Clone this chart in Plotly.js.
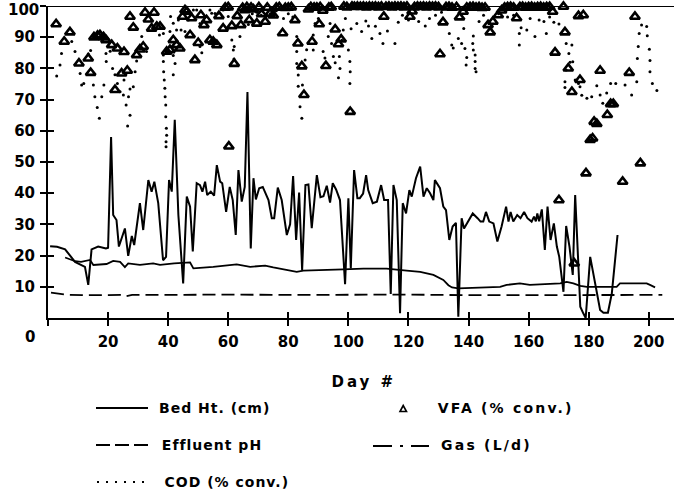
<!DOCTYPE html>
<html>
<head>
<meta charset="utf-8">
<script src="https://cdn.plot.ly/plotly-3.0.1.min.js"></script>
<style>
html,body{margin:0;padding:0;background:#fff;}
#chart{width:674px;height:497px;}
</style>
</head>
<body>
<div id="chart"></div>
<script>
// ---- Bed height (cm) ----
const bedDays = [0.7,3,5.7,7.6,9,12.3,13.4,14.5,16.7,19.3,20,21,21.7,22.8,23.6,25.6,26.7,27.9,28.7,30.6,31.7,33.4,34.5,35.4,36.7,38.3,39.3,40.3,41.2,42.2,43.4,45,46.2,47.3,48.2,49.5,50.6,51.4,52.3,53,54.2,55.3,56.2,57.3,58,59.3,60.5,61.5,62.5,63.4,64.5,65.5,66.4,67.5,68.4,69.2,70.3,71.5,72.3,73.4,74.5,75.3,76.5,77.8,79.5,80.6,81.6,82.6,83.6,84.6,85.7,86.7,87.8,89.5,90.7,91.7,92.8,93.9,94.8,95.9,97.2,98.9,100,100.8,101.9,103,103.8,104.9,105.9,106.6,108.1,109.5,110.9,111.9,113.2,114.1,115,116.1,117.2,118.1,119.2,120.3,121.1,122.5,123.9,125,126.1,127.2,128.3,128.8,130.5,131.6,132.5,133.6,134.7,135.8,136.6,137.7,138.5,139.9,141.4,143,144,144.9,145.8,146.9,148.3,149.6,151,152.5,153.3,154,154.9,156.2,157.3,158.5,159.6,161,161.8,162.4,162.9,163.5,164.4,165.4,166.3,167.3,168.4,169.4,170.2,171.6,172.5,173.6,174.7,175.5,176.4,177.2,178.2,179,180.5,181.6,182.7,183.8,184.9,186.4,187.7,189.6];
const bedVals = [23,22.8,22,19.6,18,16.4,10.6,22,22.9,22.3,22.5,58,33,31.4,22.9,28.7,19.9,26.3,23.4,36.8,28.2,44.2,40.5,43.7,36.8,18.5,19.6,44.2,40.5,63.5,33,11.1,38.9,35.7,21.3,43.2,42.6,40.5,43.7,39.4,40.5,39.2,49,43.7,43.2,34,42,37.8,26.6,47.4,37.3,42,72.4,22.3,44.8,38,41.6,42,40,37.8,32,32,41.8,37.8,26.6,30,45.5,25,40.2,15.4,42.6,42.8,28.8,45.8,38.7,39,42.4,37,43.2,41.2,37.8,10.8,38.4,15.9,47.4,38.4,38.4,39.9,45.8,41,36.8,37.3,42.6,37.8,37.8,7.7,42.6,37.8,1.5,36.8,33.5,41,38.9,44.8,48.5,38.9,41.6,40,37.8,44.2,41.6,35.7,34.6,25,29.3,30.5,0.4,32,28.7,30.9,33.5,32,30.9,30.9,34,30.9,30.3,24.5,29.3,35.7,30.9,34,30.9,33,32,34,32,30.9,32.5,31,33.5,31,34.8,21.8,35.7,25,30.3,22.9,19.6,8.4,29.5,22.9,13.8,39.4,21.8,3.6,1.5,0,19.6,14.3,7.9,2.6,1.7,1.7,7.9,26.6];

// ---- Gas (L/d) ----
const gasDays = [5.7,9,11,14,15.1,19.5,21.7,24,25.6,26.7,30.6,35,37.3,42,47.3,48.4,55,59.5,62.8,67.3,72.3,75,80,82.8,85,92.8,98.3,105,112.7,119.4,123.9,128.3,131.6,133.3,134.5,136.6,141.4,147.2,150.5,152.7,157.1,160.4,163.8,170.5,172.7,174.9,177.2,179.4,183.8,189.3,190.4,199.3,200.4,202.1];
const gasVals = [19.4,18.2,18,18.6,17,17.3,18.3,18,16.3,17.5,17,17.5,17,17.5,17.8,15.9,16.4,16.9,17.2,16.4,16.8,16.2,15.4,14.8,15.2,15.3,15.6,15.8,15.8,15.2,14.8,13.8,12.2,10.5,9.8,9.5,9.7,10,10,10.6,11.1,10.6,10.8,11.1,11.6,11.1,10.3,10,10,10,11.1,11.1,10.6,9.8];

// ---- Effluent pH ----
const phDays = [1,4,7,12,20,25,26,28,35,45,60,80,100,114,120,140,160,180,204.5];
const phVals = [8.1,7.8,7.4,7.3,7.3,7.4,7.0,7.4,7.4,7.5,7.5,7.4,7.5,7.5,7.5,7.3,7.4,7.4,7.4];

// ---- COD (% conv.) ----
const codDays = [2.9,4,4.5,7.9,9,10.7,11.2,11.9,13.4,14.2,15.1,15.6,16.4,17.1,17.9,18.6,19.3,19.4,20.1,20.7,21.5,22.3,23.1,24,25.1,25.3,26,26.5,26.8,27.3,27.3,28.4,29,29.5,31.2,32.8,34.5,36.2,37.1,38.4,38.4,38.4,38.5,38.7,38.9,39,39.2,39.2,39.4,39.5,39.3,39.3,40.6,40.8,41.7,41.7,41.7,42.3,42.8,43.4,44.3,45.6,46.7,48.4,49.5,50.6,50.6,51.2,53.9,54.5,55.6,56.7,58.3,60,61.2,61.7,62,61.9,63.9,66.7,68,69.5,71,72.5,74,76,78.4,80,81.5,82.8,82.8,82.8,83.3,83.3,83.9,84.5,84.7,85.6,86.1,88.3,88.3,88.9,90,91.6,92.2,93.3,93.9,94.4,95,95.6,96.7,97,97.2,97.8,98.3,99,100,100.5,100.6,100.5,100.9,102.8,104.4,105.8,106.7,107.8,109,110.5,111.5,113,115.5,116.6,118,120,123.4,125.6,127,129,131,133.6,134.4,134.9,136.6,137.7,138.4,138.8,139.2,139.4,141.4,141.6,141.6,142.2,142.2,142.2,142.5,143.5,145,150,153,155,156.9,156.9,157.5,159.4,160.5,162.1,163.5,165.1,165.9,167,168.4,170.1,172.1,172.1,172.5,172.5,173.4,173.8,174.4,174.7,175.5,176.6,177.1,177.7,179.4,181,182.7,183.8,184.7,186,187.3,189,192.1,194.3,196,196.2,196.5,196.8,197.6,199.3,199.5,200.2,200.4,200.4,201.2,202.7];
const codVals = [77.6,81.1,84.8,88.6,85.4,78.4,74.7,75.2,84.6,85.7,74.7,70.9,67.5,64,70.9,74.7,84.8,82.2,87,85.5,80,78,75.2,72.5,71.5,76.3,68.3,61.5,70.9,65,73.4,74.1,78.9,82.4,90.2,85.4,95.5,94.5,90.7,91.2,84.3,82.2,78.9,76.3,73.6,70.9,68.3,64.5,60.8,58.6,56.5,54.9,91.8,96.6,94.5,84.1,78,81.6,92.3,95.5,92.3,91.8,95.5,98.7,98.7,94.4,87,85,98.7,97.7,97.6,97.7,98.7,96.6,89.1,85.9,87,83,90.2,94.1,97.5,98,97,96.5,97.5,98.5,96,97.5,96.5,90.2,85.4,81.6,77.9,74.3,67.7,64,74.7,82.7,86,90.7,85.9,94.4,96,85.4,83.3,90.2,94.4,88,83.8,81.8,77,83.8,80,89,92.3,96,85.9,82.2,78.9,75.2,92.7,94.4,91.8,95.2,93.6,89.6,93.5,91.2,88,92,88,94.8,97,95.5,95,93.6,96,97,98,91.2,87.5,86.5,89.6,88,92.8,86.4,81.1,83.5,88,90.4,85.9,84.3,82.2,80,78.9,95,97,97.5,96.5,97,91.2,87.5,93,92.3,96,90.2,95.5,95,91.2,96.5,94.8,94.2,75.7,73.9,79.5,88,84.8,82,87.5,82.1,76.3,75.2,74.1,71.4,70.4,70.9,74.4,71.5,68.8,72.1,75.2,75.2,74.7,71.5,75.7,83.2,87,91.2,93.9,93.4,90.5,86.1,82.5,78.9,75.2,72.9];

// ---- VFA (% conv.) ----
const vfaDays = [2.7,5.4,7.3,10.3,13.4,14.2,15.3,16.5,17.3,18.5,19.3,21.2,22.3,23.1,24.5,25.3,26.4,27.3,28.4,29.5,30.6,31.7,32.3,33.4,34.5,35.3,36.2,37.3,39.5,40.6,41.7,42.8,43.9,44.8,45.6,46.2,47.3,47.8,48.9,50,50.9,51.9,52.8,53.9,55,56.2,56.9,58.3,59,60,60.2,61.2,62,63,64.2,64.8,65.6,66.2,67,67.6,68.4,69.5,70.2,71.1,72.3,73,73.9,75,76,77,78.1,79,80,81,82.2,83.2,84.5,85.2,86.7,87.5,87.9,88.6,89.5,90.3,90.6,91.5,92.5,93.5,94.3,95.6,96.7,97.6,98.5,99.5,100.6,101.2,102,103,104,105,106,107,108,109,110,111,111.8,112.5,113.5,114.5,115.5,116.5,117.5,118.5,119.5,120.5,121.2,122,123,124,125,126,127,128,129,130,130.5,131.5,132.5,133.5,134.5,136,137,138.2,139.4,140.5,141.5,142.5,143.5,144.5,145.5,146.5,147.2,148.1,149.9,151,152,153,154,155,156,157.1,158,159,160,161,162,163,164,165,166,167,168,168.8,170.1,171.6,172.1,173.2,174.4,175.2,176.6,177.1,178.2,179.1,180.5,181.3,181.8,182.7,183.8,186.2,187.3,188.2,191.3,193.5,195.4,197.2,199.6];
const vfaVals = [94.2,88.6,91.6,81.6,83.2,78.6,90,90.5,90.7,90,89.1,87.5,73.1,86.4,78.4,85.3,79.3,96.6,93.1,84.3,86.1,87,97.9,95.7,92.8,97.9,93.4,93.4,85.4,85.9,89.1,87.5,86.4,96.6,98.7,98.2,90.7,96.1,82.7,88.2,97.1,93.9,95.5,89.1,88.6,87.5,96.8,92.8,99.5,99.6,55,93.6,81.5,96.8,93.9,99.4,98.7,99.6,95.5,99.5,98.9,94.4,99.6,97.4,95,99.5,97.6,97,99.5,99.6,91.3,99.4,99.5,99.6,95.5,88,80.7,71.5,98.9,99.6,88.6,99.5,99.5,94.2,99.6,98.5,80.8,99.5,99.6,92.5,87.8,89.3,99.8,99.6,66.1,99.8,99.7,99.8,99.7,99.8,99.6,99.8,99.7,99.8,99.6,99.8,96.6,99.7,99.8,99.6,99.8,99.7,99.8,99.6,99.8,96.6,98.3,99.6,99.8,99.7,99.8,99.6,99.8,99.7,99.8,99.6,84.6,94.8,99.6,99.7,99.5,99.6,96.4,98.2,99.5,99.6,99.7,99.5,99.6,99.4,99.5,93.9,91.6,95,97.1,98.6,99.5,99.6,99.7,99.5,96.1,99.6,99.7,99.5,99.6,99.7,99.5,99.6,99.7,99.5,99.6,99.7,98.2,85.1,37.8,99.8,91.6,80,72.5,17.5,96.8,76.3,97.1,46.4,57.1,57.6,62.9,62.2,79.3,65.1,68.6,68.6,43.7,78.6,96.6,49.6];

// ---- Axis ticks ----
const xTickVals = [0,20,40,60,80,100,120,140,160,180,200];
const xTickText = ['','20','40','60','80','100','120','140','160','180','200'];
const yTickVals = [10,20,30,40,50,60,70,80,90,100];
const yTickText = ['10','20','30','40','50','60','70','80','90',''];

// ---- Layout geometry ----
const W = 674, H = 497, ML = 48, MR = 0, MT = 6, MB = 179;
const PW = W - ML - MR, PH = H - MT - MB;
const px = v => (v - ML) / PW;       // pixel x -> paper x
const py = v => (H - MB - v) / PH;   // pixel y -> paper y

const tickFont = {family: 'DejaVu Sans, sans-serif', size: 15, color: '#000', weight: 700};
const legFont = {family: 'DejaVu Sans, sans-serif', size: 14, color: '#000', weight: 700};

const traces = [
  {x: bedDays, y: bedVals, mode: 'lines', line: {color: '#000', width: 2}, cliponaxis: false, showlegend: false},
  {x: gasDays, y: gasVals, mode: 'lines', line: {color: '#000', width: 1.8}, cliponaxis: false, showlegend: false},
  {x: phDays, y: phVals, mode: 'lines', line: {color: '#000', width: 1.8, dash: '13px,6px'}, cliponaxis: false, showlegend: false},
  {x: codDays, y: codVals, mode: 'markers', marker: {symbol: 'circle', size: 3, color: '#000'}, cliponaxis: false, showlegend: false},
  {x: vfaDays, y: vfaVals, mode: 'markers', marker: {symbol: 'triangle-up-open', size: 8.5, color: '#000', line: {color: '#000', width: 2.6}}, cliponaxis: false, showlegend: false},
  {x: [], y: [], xaxis: 'x2', yaxis: 'y2', showlegend: false}
];

const xr = [0, 208.4], yr = [0, 100];

function ann(text, cx, cy, font) {
  return {text: text, xref: 'paper', yref: 'paper', x: px(cx), y: py(cy), xanchor: 'center', yanchor: 'middle', showarrow: false, font: font};
}

const layout = {
  width: W, height: H,
  margin: {l: ML, r: MR, t: MT, b: MB},
  paper_bgcolor: '#fff', plot_bgcolor: '#fff',
  showlegend: false,
  xaxis: {range: xr, showgrid: false, zeroline: false, showline: true, linecolor: '#000', linewidth: 2,
    tickmode: 'array', tickvals: xTickVals, ticktext: xTickText, ticks: 'outside', ticklen: 6, tickwidth: 2, tickcolor: '#000',
    tickfont: tickFont, ticklabelstandoff: 3, ticklabeloverflow: 'allow'},
  yaxis: {range: yr, showgrid: false, zeroline: false, showline: true, linecolor: '#000', linewidth: 2,
    tickmode: 'array', tickvals: yTickVals, ticktext: yTickText, ticks: 'outside', ticklen: 6, tickwidth: 2, tickcolor: '#000',
    tickfont: tickFont, ticklabelstandoff: 2, ticklabeloverflow: 'allow'},
  xaxis2: {range: xr, overlaying: 'x', anchor: 'y', side: 'bottom', showgrid: false, zeroline: false, showline: false,
    tickmode: 'array', tickvals: xTickVals, ticks: 'inside', ticklen: 6, tickwidth: 2, tickcolor: '#000', showticklabels: false},
  yaxis2: {range: yr, overlaying: 'y', anchor: 'x', side: 'left', showgrid: false, zeroline: false, showline: false,
    tickmode: 'array', tickvals: yTickVals, ticks: 'inside', ticklen: 6, tickwidth: 2, tickcolor: '#000', showticklabels: false},
  shapes: [
    {type: 'line', xref: 'paper', yref: 'y', x0: -0.005, x1: 1, y0: 100, y1: 100, line: {color: '#000', width: 2}},
    {type: 'line', xref: 'paper', yref: 'paper', x0: px(96), x1: px(148), y0: py(408), y1: py(408), line: {color: '#000', width: 2}},
    {type: 'line', xref: 'paper', yref: 'paper', x0: px(96), x1: px(149), y0: py(445), y1: py(445), line: {color: '#000', width: 2, dash: '14px,5px'}},
    {type: 'line', xref: 'paper', yref: 'paper', x0: px(97), x1: px(149), y0: py(482), y1: py(482), line: {color: '#000', width: 2, dash: '2px,7px'}},
    {type: 'line', xref: 'paper', yref: 'paper', x0: px(373), x1: px(392), y0: py(446), y1: py(446), line: {color: '#000', width: 2}},
    {type: 'line', xref: 'paper', yref: 'paper', x0: px(400), x1: px(403), y0: py(446), y1: py(446), line: {color: '#000', width: 2}},
    {type: 'line', xref: 'paper', yref: 'paper', x0: px(411), x1: px(429), y0: py(446), y1: py(446), line: {color: '#000', width: 2}},
    {type: 'path', xref: 'paper', yref: 'paper',
      path: 'M ' + px(400) + ' ' + py(411.5) + ' L ' + px(406.5) + ' ' + py(411.5) + ' L ' + px(403.2) + ' ' + py(405.5) + ' Z',
      line: {color: '#000', width: 1.6}}
  ],
  annotations: [
    ann('100', 23, 10.5, tickFont),
    ann('0', 30, 337, tickFont),
    ann('Day #', 364, 382, {family: 'DejaVu Sans, sans-serif', size: 15, color: '#000', weight: 700}),
    ann('Bed Ht. (cm)', 214, 408, legFont),
    ann('Effluent pH', 211.5, 445, legFont),
    ann('COD (% conv.)', 226.5, 482, legFont),
    ann('VFA (% conv.)', 505, 408, legFont),
    ann('Gas (L/d)', 486.5, 445, legFont)
  ]
};

Plotly.newPlot('chart', traces, layout, {displayModeBar: false, staticPlot: true}).then(function () {
  document.querySelectorAll('.annotation-text').forEach(function (el) {
    const t = el.textContent;
    if (t === 'Day #') el.style.letterSpacing = '3px';
    else if (t === 'VFA (% conv.)' || t === 'Gas (L/d)') el.style.letterSpacing = '2.2px';
    else if (t === '0' || t === '100') el.style.letterSpacing = '0px';
    else el.style.letterSpacing = '1px';
  });
});
</script>
</body>
</html>
